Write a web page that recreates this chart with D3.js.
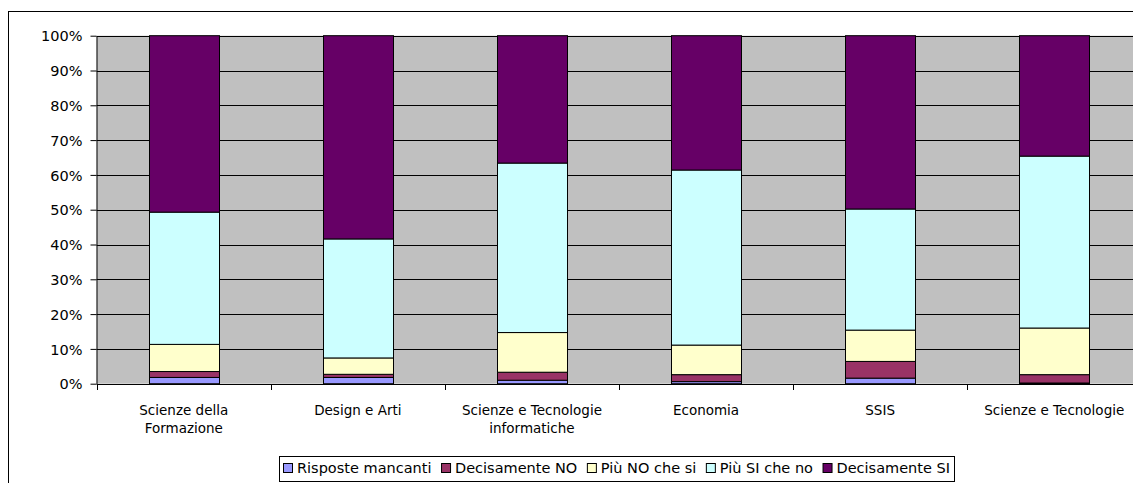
<!DOCTYPE html>
<html>
<head>
<meta charset="utf-8">
<script src="https://cdn.jsdelivr.net/npm/d3@7"></script>
<style>
  html, body { margin: 0; padding: 0; background: #fff; }
  svg { display: block; }
  text { font-family: "DejaVu Sans", Verdana, sans-serif; fill: #000; }
</style>
</head>
<body>
<svg id="chart" width="1133" height="483"></svg>
<script>
const categories = [
  ["Scienze della", "Formazione"],
  ["Design e Arti"],
  ["Scienze e Tecnologie", "informatiche"],
  ["Economia"],
  ["SSIS"],
  ["Scienze e Tecnologie"]
];
const seriesNames = ["Risposte mancanti", "Decisamente NO", "Più NO che si", "Più SI che no", "Decisamente SI"];
const risposteMancanti = [1.8, 1.8, 1.0, 0.6, 1.6, 0.2];
const decisamenteNO    = [1.7, 0.9, 2.3, 2.0, 4.8, 2.4];
const piuNOcheSi       = [7.8, 4.7, 11.4, 8.5, 9.0, 13.4];
const piuSIcheNo       = [38.0, 34.2, 48.7, 50.3, 34.8, 49.4];
const decisamenteSI    = [50.7, 58.4, 36.6, 38.6, 49.8, 34.6];
const yTicks = [0, 10, 20, 30, 40, 50, 60, 70, 80, 90, 100];
const colors = ["#9999FF", "#993366", "#FFFFCC", "#CCFFFF", "#660066"];

const seriesValues = [risposteMancanti, decisamenteNO, piuNOcheSi, piuSIcheNo, decisamenteSI];
const keys = seriesNames;
const table = categories.map((c, i) => {
  const row = { cat: c.join(" ") };
  keys.forEach((k, j) => row[k] = seriesValues[j][i]);
  return row;
});

const svg = d3.select("#chart");
const plot = { left: 96.7, top: 35.7, bottom: 383.7, band: 174.1 };
const n = categories.length;

// outer frame
svg.append("rect").attr("x", 8.5).attr("y", 11.5).attr("width", 1200).attr("height", 600)
  .attr("fill", "#fff").attr("stroke", "#000").attr("stroke-width", 1);

const x = d3.scaleBand().domain(table.map(d => d.cat))
  .range([plot.left, plot.left + plot.band * n]).paddingInner(0.598).paddingOuter(0.299);
const y = d3.scaleLinear().domain([0, 100]).range([plot.bottom, plot.top]);

// plot area background
svg.append("rect").attr("x", plot.left).attr("y", plot.top)
  .attr("width", plot.band * n).attr("height", plot.bottom - plot.top).attr("fill", "#C0C0C0");

// gridlines
svg.append("g").selectAll("line").data(yTicks.filter(t => t > 0)).join("line")
  .attr("x1", plot.left).attr("x2", plot.left + plot.band * n)
  .attr("y1", d => Math.round(y(d)) + 0.5).attr("y2", d => Math.round(y(d)) + 0.5)
  .attr("stroke", "#000").attr("stroke-width", 1);

// stacked bars
const stack = d3.stack().keys(keys)(table);
svg.append("g").selectAll("g").data(stack).join("g")
  .attr("fill", (d, i) => colors[i])
  .selectAll("rect").data(d => d).join("rect")
  .attr("x", d => Math.round(x(d.data.cat)) + 0.5)
  .attr("width", Math.round(x.bandwidth()))
  .attr("y", d => y(d[1]))
  .attr("height", d => y(d[0]) - y(d[1]))
  .attr("stroke", "#000").attr("stroke-width", 1);

// y axis
const yAxis = d3.axisLeft(y).tickValues(yTicks).tickFormat(d => d + "%").tickSize(6).tickSizeOuter(0);
const gy = svg.append("g").attr("transform", `translate(${Math.round(plot.left) - 0.5},0)`).call(yAxis);
gy.attr("font-family", null).attr("font-size", null);
gy.select(".domain").attr("stroke", "#000");
gy.selectAll(".tick line").attr("stroke", "#000");
gy.selectAll(".tick text").attr("x", -14).attr("dy", "0.36em").style("font-size", "14.5px");

// x axis (category boundaries)
const boundaries = d3.range(n + 1).map(i => plot.left + plot.band * i);
svg.append("line").attr("x1", plot.left).attr("x2", plot.left + plot.band * n)
  .attr("y1", Math.round(plot.bottom) + 0.5).attr("y2", Math.round(plot.bottom) + 0.5)
  .attr("stroke", "#000");
svg.append("g").selectAll("line").data(boundaries).join("line")
  .attr("x1", d => Math.round(d) + 0.5).attr("x2", d => Math.round(d) + 0.5)
  .attr("y1", Math.round(plot.bottom)).attr("y2", Math.round(plot.bottom) + 6)
  .attr("stroke", "#000");

// category labels
const labels = svg.append("g").selectAll("text").data(categories).join("text")
  .attr("x", (d, i) => x(table[i].cat) + x.bandwidth() / 2)
  .attr("y", 415)
  .attr("text-anchor", "middle").style("font-size", "13.5px");
labels.selectAll("tspan").data(d => d).join("tspan")
  .attr("x", function () { return this.parentNode.getAttribute("x"); })
  .attr("dy", (d, i) => i === 0 ? 0 : 18)
  .text(d => d);

// legend
const legend = svg.append("g");
const legendBox = legend.append("rect").attr("fill", "#fff").attr("stroke", "#000");
const boxLeft = 279, boxRight = 954, ly = 468;
const texts = seriesNames.map(name => legend.append("text").attr("y", ly + 5).style("font-size", "14.5px").text(name));
const widths = texts.map(t => t.node().getComputedTextLength());
const inner = 4 + d3.sum(widths) + seriesNames.length * 14;
const gap = (boxRight - boxLeft - inner - 4) / (seriesNames.length - 1);
let lx = boxLeft + 4;
seriesNames.forEach((name, i) => {
  legend.append("rect").attr("x", lx + 0.5).attr("y", ly - 4.5).attr("width", 9).attr("height", 9)
    .attr("fill", colors[i]).attr("stroke", "#000");
  texts[i].attr("x", lx + 14);
  lx += 14 + widths[i] + gap;
});
legendBox.attr("x", boxLeft + 0.5).attr("y", 456.5).attr("width", boxRight - boxLeft).attr("height", 25);
</script>
</body>
</html>
